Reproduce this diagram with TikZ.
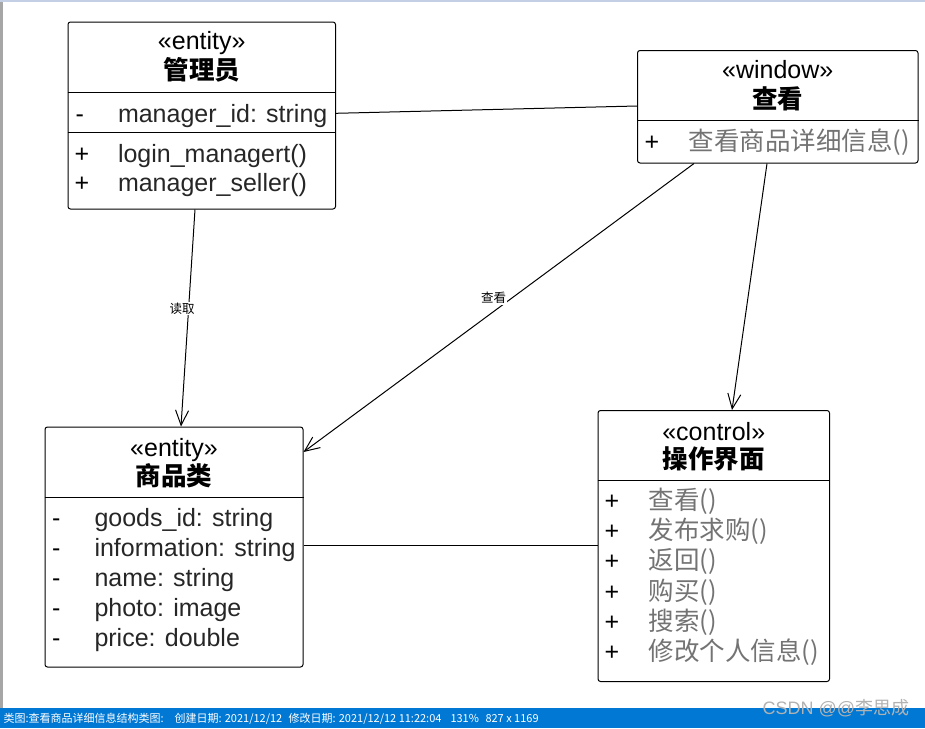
\documentclass[tikz,border=0pt]{standalone}
\usepackage{fontspec}
\setmainfont{Liberation Sans}
\newfontfamily\cjk{Noto Sans CJK SC}
\usetikzlibrary{arrows.meta}
\definecolor{barblue}{RGB}{0,120,212}
\definecolor{topline}{RGB}{196,206,228}

\begin{document}
\begin{tikzpicture}[x=1pt,y=-1pt,line width=1pt,
    cls/.style={draw,rounded corners=2.5pt,anchor=north west,inner sep=0pt},
    stereo/.style={anchor=base,inner sep=0pt,font=\fontsize{25}{30}\selectfont},
    ttl/.style={anchor=base,inner sep=0pt,font=\cjk\bfseries\fontsize{25.5}{30}\selectfont},
    vis/.style={anchor=base west,inner sep=0pt,font=\fontsize{25}{30}\selectfont},
    rowtxt/.style={anchor=base west,inner sep=0pt,text=black!85,font=\fontsize{25}{30}\selectfont},
    cjrow/.style={anchor=base west,inner sep=0pt,text=black!55,font=\cjk\fontsize{25.5}{30}\selectfont},
    lbl/.style={fill=white,inner sep=1pt,font=\cjk\fontsize{12.5}{14}\selectfont},
    arr/.style={-{Straight Barb[length=15pt,width=13pt]}},
    stat/.style={anchor=base west,inner sep=0pt,text=white,font=\cjk\fontsize{11}{13}\selectfont}]
      \useasboundingbox (0,0) rectangle (925,728);
      \fill [topline] (0,0) rectangle (925,2);
      \fill [gray!70] (0,2) rectangle (2.5,708);
      \fill [barblue] (0,708) rectangle (925,728);

      \node [cls,minimum width=267.5,minimum height=187] (adm) at (67.5,21.5) {};
      \node [cls,minimum width=280.5,minimum height=112.5] (win) at (637,50) {};
      \node [cls,minimum width=258,minimum height=240] (goods) at (44.5,426.5) {};
      \node [cls,minimum width=231.5,minimum height=271] (ctrl) at (597.5,410) {};

      \draw (adm.west |- 0,92.3) -- (adm.east |- 0,92.3);
      \draw (adm.west |- 0,132.3) -- (adm.east |- 0,132.3);
      \draw (win.west |- 0,120) -- (win.east |- 0,120);
      \draw (goods.west |- 0,497.3) -- (goods.east |- 0,497.3);
      \draw (ctrl.west |- 0,480) -- (ctrl.east |- 0,480);

      \node [stereo] (admst) at (adm.north |- 0,49.5) {«entity»};
      \node [ttl] (admtt) at (adm.north |- 0,79.5) {管理员};
      \node [vis] (admv) at (75,122.3) {-};
      \node [rowtxt] (admid) at (117.5,122.3) {manager\_id: string};
      \node [vis] (admp1) at (74,162.7) {+};
      \node [rowtxt] (admm1) at (117.5,162.7) {login\_managert()};
      \node [vis] (admp2) at (74,191.9) {+};
      \node [rowtxt] (admm2) at (117.5,191.9) {manager\_seller()};

      \node [stereo] (winst) at (win.north |- 0,78.5) {«window»};
      \node [ttl] (wintt) at (win.north |- 0,108) {查看};
      \node [vis] (winp) at (644,150.5) {+};
      \node [cjrow] (winm) at (688,150.5) {查看商品详细信息()};

      \node [stereo] (goodsst) at (goods.north |- 0,456) {«entity»};
      \node [ttl] (goodstt) at (goods.north |- 0,485.5) {商品类};
      \foreach \t [count=\i from 0] in {goods\_id: string,information: string,name: string,photo: image,price: double}
      {
        \node [vis] (gv\i) at (51.5,526+30*\i) {-};
        \node [rowtxt] (ga\i) at (94,526+30*\i) {\t};
      }

      \node [stereo] (ctrlst) at (ctrl.north |- 0,440) {«control»};
      \node [ttl] (ctrltt) at (ctrl.north |- 0,468) {操作界面};
      \foreach \m [count=\i from 0] in {查看(),发布求购(),返回(),购买(),搜索(),修改个人信息()}
      {
        \node [vis] (cp\i) at (604,509.5+30.2*\i) {+};
        \node [cjrow] (cm\i) at (648,509.5+30.2*\i) {\m};
      }

      \draw (adm.east |- 0,113.3) -- (win.west |- 0,106);
      \draw [arr] (adm.south -| 195,0) -- node [lbl,pos=0.456,xshift=-6.5] (rd) {读取} (goods.north -| 181,0);
      \draw [arr] (win.south -| 694,0) -- node [lbl,pos=0.48,xshift=-13,yshift=4] (ck) {查看} (goods.east |- 0,452);
      \draw [arr] (win.south -| 767,0) -- (ctrl.north -| 732,0);
      \draw (goods.east |- 0,545.5) -- (ctrl.west |- 0,545.5);

      \node [stat] (s1) at (3,722) {类图:查看商品详细信息结构类图:};
      \node [stat] (s2) at (174,722) {创建日期: 2021/12/12};
      \node [stat] (s3) at (288,722) {修改日期: 2021/12/12 11:22:04};
      \node [stat] (s4) at (450,722) {131\%};
      \node [stat] (s5) at (485,722) {827 x 1169};
      \node [inner sep=0pt,text=black!30,font=\fontsize{18}{20}\selectfont] (wm) at (836,708) {CSDN @@{\cjk 李思成}};
    \end{tikzpicture}
\end{document}
